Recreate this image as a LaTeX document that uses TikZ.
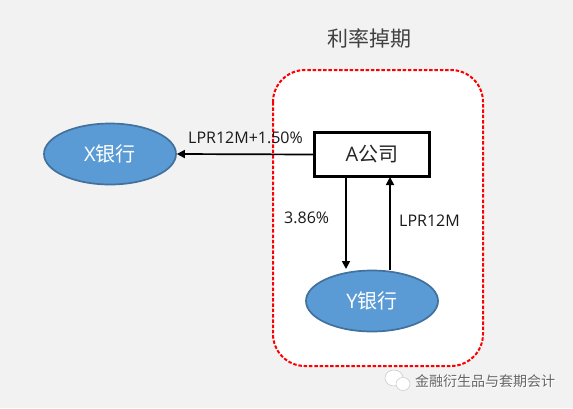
\documentclass[tikz,border=0pt]{standalone}
\usepackage{fontspec}
\setmainfont{Open Sans}
\newfontfamily\cjk{Noto Sans CJK SC}
\usetikzlibrary{shapes.geometric,arrows.meta}
\definecolor{bg}{HTML}{F2F2F2}
\definecolor{fillblue}{HTML}{5B9BD5}
\definecolor{edgeblue}{HTML}{41719C}
\tikzset{
  bank/.style={ellipse,draw=edgeblue,line width=1.7pt,fill=fillblue,text=white,minimum width=132pt,minimum height=61pt,inner sep=0pt,font=\fontsize{20}{24}\selectfont},
  flow/.style={draw=black,line width=1.7pt,-{Triangle[length=8pt,width=8pt]}},
  lab/.style={text=black!90,font=\fontsize{16}{19}\selectfont,inner sep=0pt},
  wm/.style={inner sep=0pt,font=\cjk\fontsize{14}{16}\selectfont}
}
\begin{document}
\begin{tikzpicture}[x=1pt,y=-1pt]
\useasboundingbox[fill=bg] (0,0) rectangle (573,408);
\draw[red,line width=2pt,fill=white,dash pattern=on 3.5pt off 1.8pt,rounded corners=32pt] (273,70) rectangle (483,366);
\node[inner sep=0pt,text=black!75,font=\cjk\fontsize{21}{25}\selectfont] (title) at (369,38) {利率掉期};
\node[draw=black,line width=2.2pt,fill=white,minimum width=115pt,minimum height=44pt,inner sep=0pt,font=\fontsize{20}{24}\selectfont,text=black!85] (A) at (372,154.5) {A{\cjk 公司}};
\node[bank] (X) at (110,154) {X{\cjk 银行}};
\node[bank] (Y) at (372,301) {Y{\cjk 银行}};
\coordinate (a1) at (346,177);
\coordinate (y1) at (346,269);
\coordinate (a2) at (390,177);
\coordinate (y2) at (390,270);
\coordinate (ax) at (A.west);
\draw[flow] (ax) -- (X.east);
\draw[flow] (a1) -- (y1);
\draw[flow] (y2) -- (a2);
\node[lab,anchor=west] (l1) at (188,138) {LPR12M+1.50\%};
\node[lab,anchor=west] (l2) at (284,218) {3.86\%};
\node[lab,anchor=west] (l3) at (399,221) {LPR12M};
% watermark
\fill[white,draw=gray!45,line width=.5pt] (394,378) ellipse (9pt and 8pt);
\fill[white,draw=gray!45,line width=.5pt] (403,384) ellipse (7pt and 6.5pt);
\node[wm,anchor=west,text=white] (w0) at (416,382) {金融衍生品与套期会计};
\node[wm,anchor=west,text=black!60] (w1) at (415,381) {金融衍生品与套期会计};
\end{tikzpicture}
\end{document}
